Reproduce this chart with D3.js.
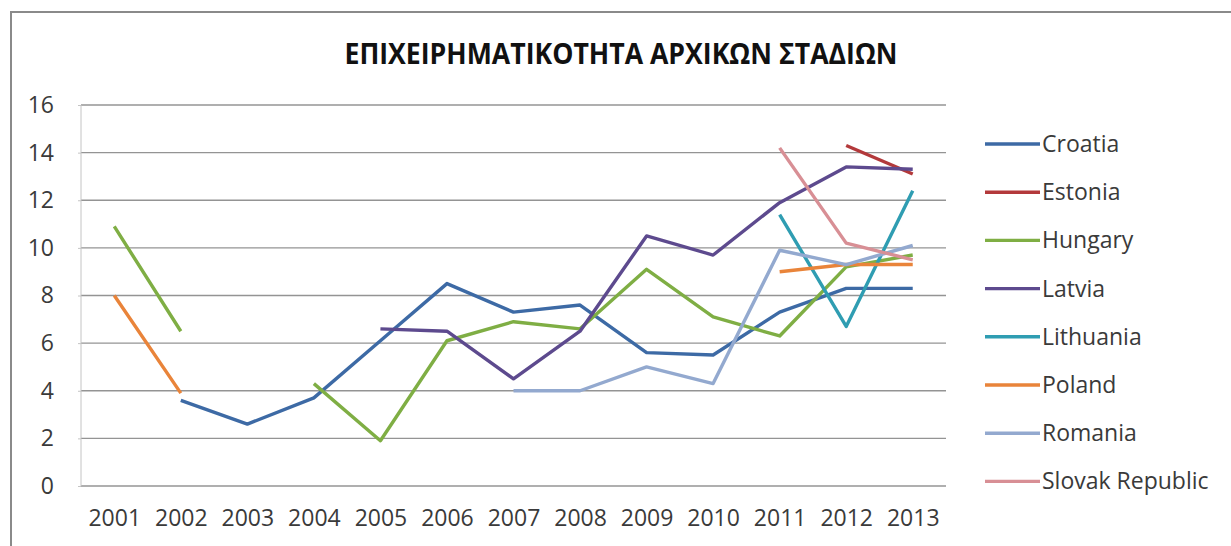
<!DOCTYPE html>
<html>
<head>
<meta charset="utf-8">
<script src="https://cdn.jsdelivr.net/npm/d3@7"></script>
<style>
  html, body { margin: 0; padding: 0; background: #fff; }
  svg { display: block; }
  text { font-family: "Open Sans", "Noto Sans", sans-serif; fill: #3a3a3a; }
</style>
</head>
<body>
<svg id="chart" width="1231" height="546"></svg>
<script>
// Early-stage entrepreneurial activity by country and year (null = no survey)
const years = ["2001","2002","2003","2004","2005","2006","2007","2008","2009","2010","2011","2012","2013"];
const countries = ["Croatia","Estonia","Hungary","Latvia","Lithuania","Poland","Romania","Slovak Republic"];
const croatia   = [null, 3.6, 2.6, 3.7, 6.1, 8.5, 7.3, 7.6, 5.6, 5.5, 7.3, 8.3, 8.3];
const estonia   = [null, null, null, null, null, null, null, null, null, null, null, 14.3, 13.1];
const hungary   = [10.9, 6.5, null, 4.3, 1.9, 6.1, 6.9, 6.6, 9.1, 7.1, 6.3, 9.2, 9.7];
const latvia    = [null, null, null, null, 6.6, 6.5, 4.5, 6.5, 10.5, 9.7, 11.9, 13.4, 13.3];
const lithuania = [null, null, null, null, null, null, null, null, null, null, 11.4, 6.7, 12.4];
const poland    = [8.0, 3.9, null, null, null, null, null, null, null, null, 9.0, 9.3, 9.3];
const romania   = [null, null, null, null, null, null, 4.0, 4.0, 5.0, 4.3, 9.9, 9.3, 10.1];
const slovakia  = [null, null, null, null, null, null, null, null, null, null, 14.2, 10.2, 9.5];
const seriesValues = [croatia, estonia, hungary, latvia, lithuania, poland, romania, slovakia];
const colors = ["#3d6aa5", "#b3393b", "#7fae44", "#5d4a8e", "#2f9db2", "#e9843a", "#93a9cf", "#d88f95"];
const yTicks = [0, 2, 4, 6, 8, 10, 12, 14, 16];
const title = "ΕΠΙΧΕΙΡΗΜΑΤΙΚΟΤΗΤΑ ΑΡΧΙΚΩΝ ΣΤΑΔΙΩΝ";

const svg = d3.select("#chart");

// chart frame (extends past the right and bottom edges)
svg.append("rect")
  .attr("x", 11).attr("y", 12)
  .attr("width", 1240).attr("height", 560)
  .attr("fill", "#fff")
  .attr("stroke", "#8a8a8a").attr("stroke-width", 2);

const plot = { left: 81, right: 946, top: 105, bottom: 486 };

const x = d3.scalePoint().domain(years).range([plot.left, plot.right]).padding(0.5);
const y = d3.scaleLinear().domain([0, 16]).range([plot.bottom, plot.top]);

// title
svg.append("text")
  .attr("x", 621).attr("y", 64)
  .attr("text-anchor", "middle")
  .attr("font-size", 28).attr("font-weight", 700)
  .attr("textLength", 553).attr("lengthAdjust", "spacingAndGlyphs")
  .style("fill", "#111")
  .text(title);

// horizontal gridlines
svg.append("g").selectAll("line")
  .data(yTicks)
  .join("line")
  .attr("x1", plot.left).attr("x2", plot.right)
  .attr("y1", d => y(d)).attr("y2", d => y(d))
  .attr("stroke", "#949494").attr("stroke-width", 1.3);

// vertical axis line
svg.append("line")
  .attr("x1", plot.left).attr("x2", plot.left)
  .attr("y1", plot.top).attr("y2", plot.bottom)
  .attr("stroke", "#c4c4c4").attr("stroke-width", 1);

// y axis labels
const yAxis = svg.append("g")
  .attr("transform", `translate(${plot.left},0)`)
  .call(d3.axisLeft(y).tickValues(yTicks).tickSize(3).tickPadding(24).tickFormat(d3.format("d")));
yAxis.select(".domain").remove();
yAxis.selectAll(".tick line").attr("stroke", "#c4c4c4");
yAxis.selectAll("text")
  .attr("font-size", 23)
  .attr("font-family", "'Open Sans', sans-serif")
  .attr("fill", "#3a3a3a");

// x axis labels
const xAxis = svg.append("g")
  .attr("transform", `translate(0,${plot.bottom})`)
  .call(d3.axisBottom(x).tickSize(0).tickPadding(24));
xAxis.select(".domain").remove();
xAxis.selectAll("text")
  .attr("font-size", 23)
  .attr("font-family", "'Open Sans', sans-serif")
  .attr("fill", "#3a3a3a");

// series lines, broken where a year has no value
const line = d3.line()
  .defined(d => d.v != null)
  .x(d => x(d.year))
  .y(d => y(d.v));

const series = countries.map((name, i) => ({
  name,
  color: colors[i],
  points: years.map((yr, j) => ({ year: yr, v: seriesValues[i][j] }))
}));

svg.append("g").selectAll("path")
  .data(series)
  .join("path")
  .attr("d", d => line(d.points))
  .attr("fill", "none")
  .attr("stroke", d => d.color)
  .attr("stroke-width", 3.4)
  .attr("stroke-linejoin", "round")
  .attr("stroke-linecap", "butt");

// legend
const legend = svg.append("g").selectAll("g")
  .data(series)
  .join("g")
  .attr("transform", (d, i) => `translate(985,${144 + i * 48.2})`);
legend.append("line")
  .attr("x1", 0).attr("x2", 55)
  .attr("stroke", d => d.color).attr("stroke-width", 3.4);
legend.append("text")
  .attr("x", 57).attr("y", 8)
  .attr("font-size", 23)
  .text(d => d.name);
</script>
</body>
</html>
